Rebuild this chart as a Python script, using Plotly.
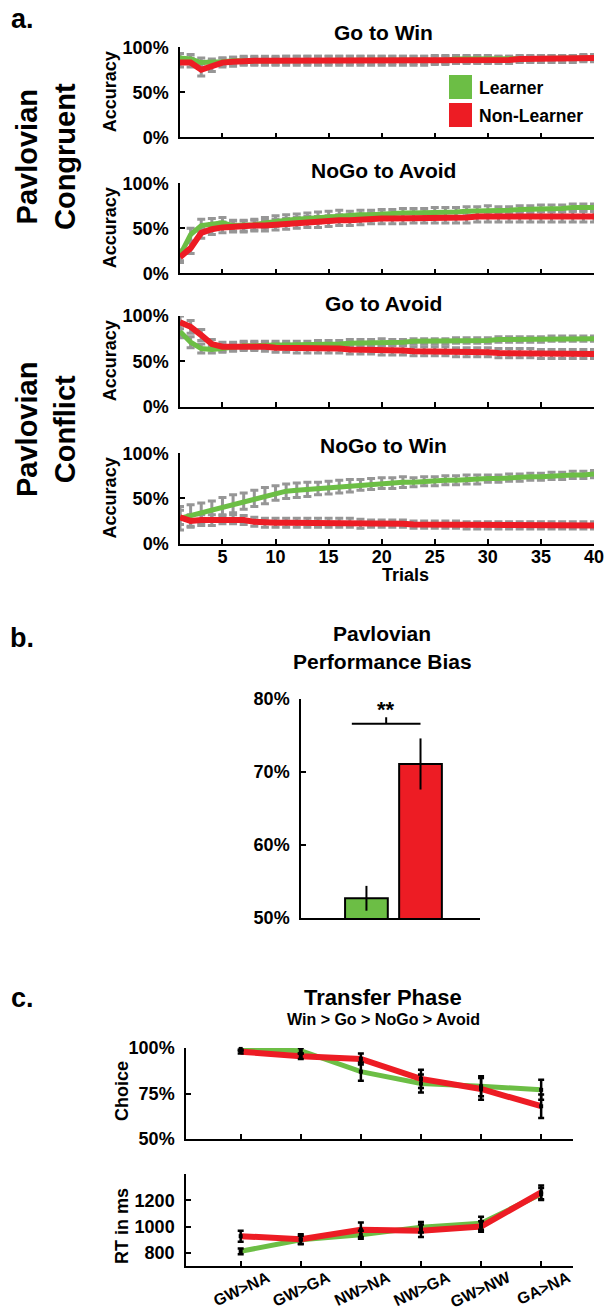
import plotly.graph_objects as go

# ---------------- data ----------------
trials = list(range(1, 41))

gw_learner = [88, 87, 83, 83, 84, 85, 85, 85, 85, 85, 86, 86, 86, 86, 86, 86, 86, 86, 86, 86,
              86, 86, 86, 86, 86, 86, 87, 87, 87, 87, 87, 87, 87, 87, 88, 88, 88, 88, 88, 88]
gw_learner_err = [5, 5, 5, 4, 4, 4, 4, 4, 4, 4, 4, 4, 4, 4, 4, 4, 4, 4, 4, 4,
                  4, 4, 4, 4, 4, 4, 4, 4, 4, 4, 3, 3, 3, 3, 3, 3, 3, 3, 3, 3]
gw_nonlearner = [83, 83, 75, 79, 83, 84, 85, 85, 85, 85, 85, 85, 85, 85, 85, 85, 85, 85, 85, 85,
                 85, 85, 85, 85, 86, 86, 86, 86, 86, 86, 86, 86, 87, 87, 87, 87, 87, 87, 88, 88]
gw_nonlearner_err = [5, 5, 7, 6, 5, 5, 5, 5, 5, 5, 5, 5, 5, 5, 5, 5, 5, 5, 5, 5,
                     5, 5, 5, 5, 5, 5, 4, 4, 4, 4, 4, 4, 4, 4, 4, 4, 4, 4, 4, 4]

na_learner = [20, 43, 53, 55, 56, 53, 53, 54, 56, 58, 59, 60, 61, 62, 63, 64, 64, 65, 65, 66,
              66, 67, 67, 67, 68, 68, 68, 69, 69, 70, 70, 70, 71, 71, 72, 72, 72, 73, 73, 73]
na_learner_err = [6, 7, 7, 6, 6, 6, 6, 6, 6, 6, 6, 6, 6, 6, 6, 6, 5, 5, 5, 5,
                  5, 5, 5, 5, 5, 5, 5, 5, 5, 5, 4, 4, 4, 4, 4, 4, 4, 4, 4, 4]
na_nonlearner = [18, 28, 45, 49, 51, 52, 52, 53, 53, 54, 55, 56, 57, 57, 58, 59, 59, 60, 61, 61,
                 61, 61, 62, 62, 62, 62, 62, 62, 63, 63, 63, 63, 63, 63, 63, 63, 63, 63, 63, 63]
na_nonlearner_err = [6, 6, 6, 6, 6, 6, 6, 6, 6, 6, 6, 6, 6, 6, 6, 6, 6, 6, 6, 6,
                     6, 6, 6, 6, 6, 6, 6, 6, 6, 6, 6, 6, 6, 6, 6, 6, 6, 6, 6, 6]

ga_learner = [83, 71, 64, 63, 64, 66, 67, 67, 68, 68, 68, 68, 68, 69, 69, 69, 70, 70, 70, 71,
              71, 71, 72, 72, 72, 72, 73, 73, 73, 73, 74, 74, 74, 74, 74, 75, 75, 75, 75, 75]
ga_learner_err = [7, 6, 5, 4, 4, 4, 4, 4, 4, 4, 4, 4, 4, 4, 4, 4, 4, 4, 4, 4,
                  3, 3, 3, 3, 3, 3, 3, 3, 3, 3, 3, 3, 3, 3, 3, 3, 3, 3, 3, 3]
ga_nonlearner = [93, 88, 79, 69, 66, 66, 67, 67, 66, 65, 65, 64, 64, 64, 64, 64, 63, 63, 63, 62,
                 62, 62, 61, 61, 61, 61, 60, 60, 60, 60, 59, 59, 59, 59, 58, 58, 58, 58, 58, 58]
ga_nonlearner_err = [7, 7, 6, 5, 5, 5, 5, 5, 5, 5, 5, 5, 5, 5, 5, 5, 5, 5, 5, 5,
                     5, 5, 5, 5, 5, 5, 5, 5, 5, 5, 5, 5, 5, 5, 5, 5, 5, 5, 5, 5]

nw_learner = [28, 31, 34, 37, 41, 44, 47, 50, 53, 56, 58, 59, 60, 61, 62, 63, 64, 65, 66, 67,
              67, 68, 68, 69, 69, 70, 70, 71, 71, 72, 72, 73, 73, 74, 74, 75, 75, 76, 76, 77]
nw_learner_err = [13, 12, 11, 10, 10, 10, 9, 9, 9, 8, 8, 8, 8, 7, 7, 7, 7, 6, 6, 6,
                  6, 6, 5, 5, 5, 5, 5, 5, 5, 4, 4, 4, 4, 4, 4, 4, 4, 4, 4, 4]
nw_nonlearner = [29, 25, 26, 26, 27, 27, 26, 24, 23, 23, 23, 23, 23, 23, 23, 23, 23, 22, 22, 22,
                 22, 22, 21, 21, 21, 21, 21, 20, 20, 20, 20, 20, 20, 20, 20, 20, 20, 20, 20, 20]
nw_nonlearner_err = [8, 7, 6, 6, 5, 5, 5, 5, 5, 5, 5, 5, 5, 5, 5, 5, 5, 5, 4, 4,
                     4, 4, 4, 4, 4, 4, 4, 4, 4, 4, 4, 4, 4, 4, 4, 4, 4, 4, 4, 4]

panel_titles = ["Go to Win", "NoGo to Avoid", "Go to Avoid", "NoGo to Win"]
trial_ticks = [5, 10, 15, 20, 25, 30, 35, 40]
acc_ticks = [0, 50, 100]
acc_labels = ["0%", "50%", "100%"]

bias_groups = [1, 2]   # Learner, Non-Learner
bias_values = [52.7, 71.1]
bias_err = [1.7, 3.5]
bias_ticks = [50, 60, 70, 80]
bias_labels = ["50%", "60%", "70%", "80%"]
sig_bracket_x = [0.73, 2.0]
sig_bracket_y = [76.6, 77.5]
sig_label = "**"

transfer_cats = ["GW>NA", "GW>GA", "NW>NA", "NW>GA", "GW>NW", "GA>NA"]
transfer_pos = [1, 2, 3, 4, 5, 6]
choice_learner = [99.5, 98.5, 87, 80.5, 79, 77]
choice_learner_err = [1, 1.5, 5, 5, 5.5, 5.5]
choice_nonlearner = [98, 95.5, 94, 83, 77.5, 68]
choice_nonlearner_err = [1, 1.5, 3, 5, 6, 6.5]
choice_ticks = [50, 75, 100]
choice_labels = ["50%", "75%", "100%"]
rt_learner = [812, 900, 938, 995, 1025, 1248]
rt_learner_err = [22, 30, 30, 40, 50, 45]
rt_nonlearner = [927, 903, 976, 968, 1000, 1260]
rt_nonlearner_err = [42, 38, 55, 48, 40, 52]
rt_ticks = [800, 1000, 1200]

# ---------------- style ----------------
W, H = 605, 1311
GREEN = "rgb(108,190,69)"
RED = "rgb(237,28,36)"
GRAY = "rgb(150,150,150)"
FONT = "Liberation Sans, Arial, Helvetica, sans-serif"


def px(x):
    return x / W


def py(y):
    return 1 - y / H


def axstyle(**kw):
    d = dict(showline=True, linecolor="black", linewidth=1.5, ticks="inside",
             ticklen=5, tickwidth=1.5, tickcolor="black", showgrid=False,
             zeroline=False, mirror=False, automargin=False,
             tickfont=dict(family=FONT, size=18, color="black", weight="bold"))
    d.update(kw)
    return d


fig = go.Figure()

# ---------------- panel a ----------------
series = [
    (gw_learner, gw_learner_err, gw_nonlearner, gw_nonlearner_err),
    (na_learner, na_learner_err, na_nonlearner, na_nonlearner_err),
    (ga_learner, ga_learner_err, ga_nonlearner, ga_nonlearner_err),
    (nw_learner, nw_learner_err, nw_nonlearner, nw_nonlearner_err),
]
a_tops = [47.3, 183.3, 316.0, 453.3]
a_bottoms = [137.3, 273.3, 406.5, 543.5]
title_y = [32, 170, 303, 445]

for i, (l, le, n, ne) in enumerate(series):
    k = "" if i == 0 else str(i + 1)
    xa, ya = "x" + k, "y" + k
    for vals, errs in ((l, le), (n, ne)):
        fig.add_trace(go.Scatter(
            x=trials, y=vals, mode="markers", xaxis=xa, yaxis=ya,
            marker=dict(size=1, color="rgba(0,0,0,0)"),
            error_y=dict(type="data", array=errs, color=GRAY, thickness=3, width=4),
            showlegend=False, hoverinfo="skip", cliponaxis=False))
    fig.add_trace(go.Scatter(x=trials, y=l, mode="lines", xaxis=xa, yaxis=ya,
                             line=dict(color=GREEN, width=5), name="Learner",
                             showlegend=False))
    fig.add_trace(go.Scatter(x=trials, y=n, mode="lines", xaxis=xa, yaxis=ya,
                             line=dict(color=RED, width=6), name="Non-Learner",
                             showlegend=False))
    fig.update_layout(**{
        "xaxis" + k: axstyle(domain=[px(180), px(594)], range=[1, 40],
                             tickvals=trial_ticks, showticklabels=(i == 3),
                             ticklabelstandoff=-4, anchor=ya),
        "yaxis" + k: axstyle(domain=[py(a_bottoms[i]), py(a_tops[i])], range=[0, 100],
                             tickvals=acc_ticks, ticktext=acc_labels,
                             ticklabelstandoff=6, anchor=xa),
    })

# ---------------- panel b ----------------
fig.add_trace(go.Bar(x=bias_groups, y=bias_values, width=0.79, xaxis="x5", yaxis="y5",
                     marker=dict(color=[GREEN, RED], line=dict(color="black", width=2)),
                     error_y=dict(type="data", array=bias_err, color="black",
                                  thickness=2, width=0),
                     showlegend=False))
fig.update_layout(
    xaxis5=axstyle(domain=[px(301), px(480)], range=[-0.21, 3.1], ticks="",
                   showticklabels=False, anchor="y5"),
    yaxis5=axstyle(domain=[py(918), py(699)], range=[50, 80], tickvals=bias_ticks,
                   ticktext=bias_labels, ticklabelstandoff=6, anchor="x5"),
)

# ---------------- panel c ----------------
for vals, col, wd, xa, ya in (
        (choice_learner, GREEN, 5, "x6", "y6"),
        (choice_nonlearner, RED, 6, "x6", "y6"),
        (rt_learner, GREEN, 5, "x7", "y7"),
        (rt_nonlearner, RED, 6, "x7", "y7")):
    fig.add_trace(go.Scatter(x=transfer_pos, y=vals, mode="lines", xaxis=xa, yaxis=ya,
                             line=dict(color=col, width=wd), showlegend=False))
for vals, errs, xa, ya in (
        (choice_learner, choice_learner_err, "x6", "y6"),
        (choice_nonlearner, choice_nonlearner_err, "x6", "y6"),
        (rt_learner, rt_learner_err, "x7", "y7"),
        (rt_nonlearner, rt_nonlearner_err, "x7", "y7")):
    fig.add_trace(go.Scatter(x=transfer_pos, y=vals, mode="markers", xaxis=xa, yaxis=ya,
                             marker=dict(size=4, color="black", symbol="square"),
                             error_y=dict(type="data", array=errs, color="black",
                                          thickness=2.5, width=3),
                             showlegend=False, hoverinfo="skip", cliponaxis=False))

fig.update_layout(
    xaxis6=axstyle(domain=[px(186), px(573)], range=[0.09, 6.53], tickvals=transfer_pos,
                   showticklabels=False, anchor="y6"),
    yaxis6=axstyle(domain=[py(1139), py(1048)], range=[50, 100], tickvals=choice_ticks,
                   ticktext=choice_labels, ticklabelstandoff=6, anchor="x6"),
    xaxis7=axstyle(domain=[px(186), px(573)], range=[0.09, 6.53], tickvals=transfer_pos,
                   ticktext=transfer_cats, tickangle=-25, ticklabelshift=27,
                   ticklabelstandoff=-5,
                   tickfont=dict(family=FONT, size=16, color="black", weight="bold"),
                   anchor="y7"),
    yaxis7=axstyle(domain=[py(1266), py(1174)], range=[700, 1400], tickvals=rt_ticks,
                   ticklabelstandoff=6, anchor="x7"),
)

# ---------------- annotations ----------------
ann = []


def text(x, y, s, size, angle=0, xanchor="center"):
    ann.append(dict(x=px(x), y=py(y), xref="paper", yref="paper", text=s,
                    showarrow=False, textangle=angle, xanchor=xanchor, yanchor="middle",
                    font=dict(family=FONT, size=size, color="black", weight="bold")))


text(22, 19, "a.", 27)
text(22, 638, "b.", 27)
text(22, 998, "c.", 27)
for t, yy in zip(panel_titles, title_y):
    text(383, yy, t, 21)
for top, bot in zip(a_tops, a_bottoms):
    text(110, (top + bot) / 2, "Accuracy", 18, angle=-90)
text(405, 575, "Trials", 18)
text(46, 156, "Pavlovian<br>Congruent", 29, angle=-90)
text(46, 429, "Pavlovian<br>Conflict", 29, angle=-90)

# legend
legend_items = [("Learner", GREEN, 87), ("Non-Learner", RED, 115)]
shapes = []
for name, col, yc in legend_items:
    shapes.append(dict(type="rect", xref="paper", yref="paper",
                       x0=px(449), x1=px(472), y0=py(yc + 12), y1=py(yc - 12),
                       fillcolor=col, line=dict(width=0)))
    text(477, yc + 1, name, 17.5, xanchor="left")

text(382, 633, "Pavlovian", 21)
text(382, 661, "Performance Bias", 21)
# significance bracket
shapes.append(dict(type="line", xref="x5", yref="y5", x0=sig_bracket_x[0], x1=sig_bracket_x[1],
                   y0=sig_bracket_y[0], y1=sig_bracket_y[0], line=dict(color="black", width=2)))
mid = (sig_bracket_x[0] + sig_bracket_x[1]) / 2
shapes.append(dict(type="line", xref="x5", yref="y5", x0=mid, x1=mid,
                   y0=sig_bracket_y[0], y1=sig_bracket_y[1], line=dict(color="black", width=2)))
ann.append(dict(x=mid, y=sig_bracket_y[0], xref="x5", yref="y5", text=sig_label,
                showarrow=False, yanchor="bottom",
                font=dict(family=FONT, size=22, color="black", weight="bold")))

text(383, 997, "Transfer Phase", 22)
text(383, 1019, "Win > Go > NoGo > Avoid", 16)
text(122, 1091, "Choice", 18, angle=-90)
text(122, 1226, "RT in ms", 18, angle=-90)

fig.update_layout(
    template="none",
    width=W, height=H, margin=dict(l=0, r=0, t=0, b=0, pad=0, autoexpand=False),
    paper_bgcolor="white", plot_bgcolor="white", showlegend=False,
    annotations=ann, shapes=shapes,
    font=dict(family=FONT, color="black"),
)

fig.write_html("out.html", config={"displayModeBar": False},
               post_script="document.body.style.margin='0';document.body.style.padding='0';")
